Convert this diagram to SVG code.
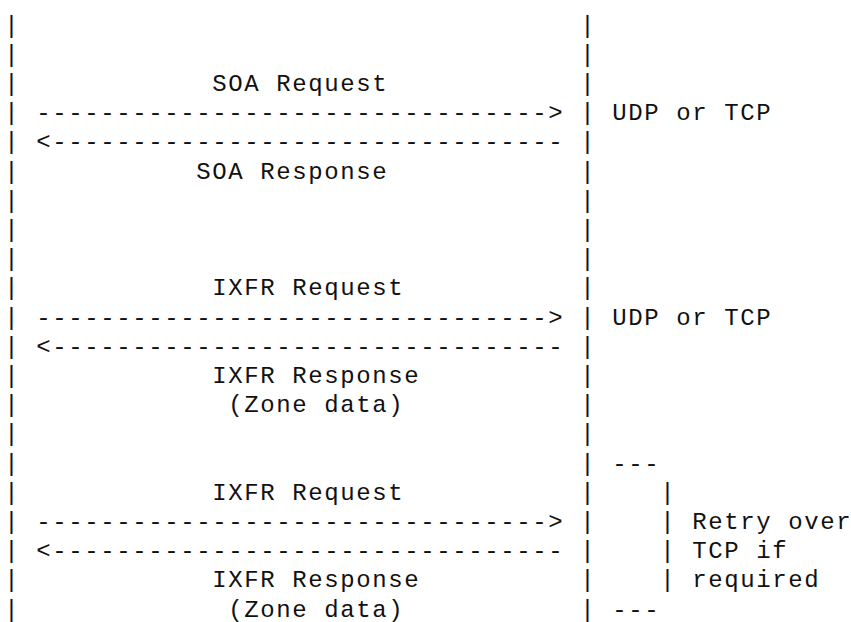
<svg xmlns="http://www.w3.org/2000/svg" width="851" height="622" viewBox="0 0 851 622">
<style>
.t{font-family:"Liberation Mono","DejaVu Sans Mono",monospace;font-size:24px;letter-spacing:1.6px;fill:#111;white-space:pre}
</style>
<rect width="851" height="622" fill="#fff"/>
<g id="lifeline-left">
<text class="t"><tspan x="4.3" y="32.5">|</tspan><tspan x="4.3" y="61.7">|</tspan><tspan x="4.3" y="90.9">|</tspan><tspan x="4.3" y="120.1">|</tspan><tspan x="4.3" y="149.3">|</tspan><tspan x="4.3" y="178.5">|</tspan><tspan x="4.3" y="207.7">|</tspan><tspan x="4.3" y="236.9">|</tspan><tspan x="4.3" y="266.1">|</tspan><tspan x="4.3" y="295.3">|</tspan><tspan x="4.3" y="324.5">|</tspan><tspan x="4.3" y="353.7">|</tspan><tspan x="4.3" y="382.9">|</tspan><tspan x="4.3" y="412.1">|</tspan><tspan x="4.3" y="441.3">|</tspan><tspan x="4.3" y="470.5">|</tspan><tspan x="4.3" y="499.7">|</tspan><tspan x="4.3" y="528.9">|</tspan><tspan x="4.3" y="558.1">|</tspan><tspan x="4.3" y="587.3">|</tspan><tspan x="4.3" y="616.5">|</tspan></text>
</g>
<g id="lifeline-right">
<text class="t"><tspan x="580.3" y="32.5">|</tspan><tspan x="580.3" y="61.7">|</tspan><tspan x="580.3" y="90.9">|</tspan><tspan x="580.3" y="120.1">|</tspan><tspan x="580.3" y="149.3">|</tspan><tspan x="580.3" y="178.5">|</tspan><tspan x="580.3" y="207.7">|</tspan><tspan x="580.3" y="236.9">|</tspan><tspan x="580.3" y="266.1">|</tspan><tspan x="580.3" y="295.3">|</tspan><tspan x="580.3" y="324.5">|</tspan><tspan x="580.3" y="353.7">|</tspan><tspan x="580.3" y="382.9">|</tspan><tspan x="580.3" y="412.1">|</tspan><tspan x="580.3" y="441.3">|</tspan><tspan x="580.3" y="470.5">|</tspan><tspan x="580.3" y="499.7">|</tspan><tspan x="580.3" y="528.9">|</tspan><tspan x="580.3" y="558.1">|</tspan><tspan x="580.3" y="587.3">|</tspan><tspan x="580.3" y="616.5">|</tspan></text>
</g>
<g id="connectors">
<text class="t" x="36.3" y="120.1">--------------------------------&gt;</text>
<text class="t" x="36.3" y="149.3">&lt;--------------------------------</text>
<text class="t" x="36.3" y="324.5">--------------------------------&gt;</text>
<text class="t" x="36.3" y="353.7">&lt;--------------------------------</text>
<text class="t" x="36.3" y="528.9">--------------------------------&gt;</text>
<text class="t" x="36.3" y="558.1">&lt;--------------------------------</text>
</g>
<g id="labels">
<text class="t" x="212.3" y="90.9">SOA Request</text>
<text class="t" x="196.3" y="178.5">SOA Response</text>
<text class="t" x="212.3" y="295.3">IXFR Request</text>
<text class="t" x="212.3" y="382.9">IXFR Response</text>
<text class="t" x="228.3" y="412.1">(Zone data)</text>
<text class="t" x="212.3" y="499.7">IXFR Request</text>
<text class="t" x="212.3" y="587.3">IXFR Response</text>
<text class="t" x="228.3" y="616.5">(Zone data)</text>
</g>
<g id="transport-notes">
<text class="t" x="612.3" y="120.1">UDP or TCP</text>
<text class="t" x="612.3" y="324.5">UDP or TCP</text>
</g>
<g id="retry-bracket">
<text class="t" x="612.3" y="470.5">---</text>
<text class="t"><tspan x="660.3" y="499.7">|</tspan><tspan x="660.3" y="528.9">|</tspan><tspan x="660.3" y="558.1">|</tspan><tspan x="660.3" y="587.3">|</tspan></text>
<text class="t" x="692.3" y="528.9">Retry over</text>
<text class="t" x="692.3" y="558.1">TCP if</text>
<text class="t" x="692.3" y="587.3">required</text>
<text class="t" x="612.3" y="616.5">---</text>
</g>
</svg>
